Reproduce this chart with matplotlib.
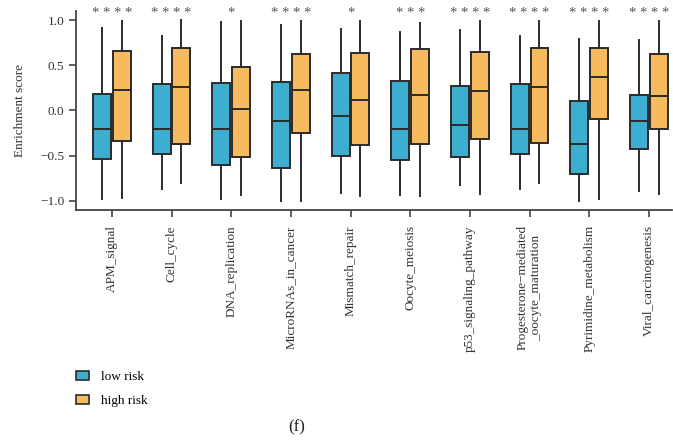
import matplotlib.pyplot as plt
import numpy as np
from matplotlib.patches import Patch

plt.rcParams["font.family"] = ["Liberation Serif", "DejaVu Serif"]

pathways = [
    "APM_signal", "Cell_cycle", "DNA_replication", "MicroRNAs_in_cancer",
    "Mismatch_repair", "Oocyte_meiosis", "p53_signaling_pathway",
    "Progesterone\u2212mediated\n_oocyte_maturation", "Pyrimidine_metabolism",
    "Viral_carcinogenesis",
]
signif = ["****", "****", "*", "****", "*", "***", "****", "****", "****", "****"]

# whisker low, Q1, median, Q3, whisker high
low_lo = [-0.98, -0.87, -0.98, -1.00, -0.91, -0.93, -0.82, -0.87, -1.00, -0.89]
low_q1 = [-0.54, -0.48, -0.60, -0.64, -0.50, -0.55, -0.52, -0.48, -0.70, -0.43]
low_med = [-0.21, -0.20, -0.20, -0.12, -0.06, -0.20, -0.16, -0.20, -0.37, -0.12]
low_q3 = [0.18, 0.29, 0.30, 0.31, 0.41, 0.33, 0.27, 0.29, 0.11, 0.17]
low_hi = [0.91, 0.82, 0.98, 0.95, 0.90, 0.87, 0.89, 0.82, 0.79, 0.78]

high_lo = [-0.97, -0.80, -0.93, -1.00, -0.95, -0.95, -0.92, -0.80, -0.98, -0.92]
high_q1 = [-0.34, -0.37, -0.51, -0.25, -0.38, -0.37, -0.32, -0.36, -0.09, -0.21]
high_med = [0.23, 0.26, 0.02, 0.23, 0.12, 0.17, 0.22, 0.26, 0.37, 0.16]
high_q3 = [0.66, 0.69, 0.48, 0.63, 0.64, 0.68, 0.65, 0.69, 0.69, 0.63]
high_hi = [0.99, 1.00, 0.99, 0.99, 0.99, 0.97, 0.99, 0.99, 0.99, 0.99]

blue = "#3daecf"
orange = "#f6bb5e"
edge = "#2b2b2b"


def make_stats(lo, q1, med, q3, hi):
    return [
        {"whislo": a, "q1": b, "med": c, "q3": d, "whishi": e, "fliers": []}
        for a, b, c, d, e in zip(lo, q1, med, q3, hi)
    ]


fig = plt.figure(figsize=(6.73, 4.41), dpi=100)
ax = fig.add_axes([0.113, 0.524, 0.885, 0.451])

x = np.arange(len(pathways))
common = dict(
    widths=0.3, showfliers=False, patch_artist=True, showcaps=False,
    whiskerprops=dict(color=edge, linewidth=1.4),
    medianprops=dict(color=edge, linewidth=1.4),
)
ax.bxp(make_stats(low_lo, low_q1, low_med, low_q3, low_hi),
       positions=x - 0.165, boxprops=dict(facecolor=blue, edgecolor=edge, linewidth=1.4),
       **common)
ax.bxp(make_stats(high_lo, high_q1, high_med, high_q3, high_hi),
       positions=x + 0.165, boxprops=dict(facecolor=orange, edgecolor=edge, linewidth=1.4),
       **common)

for xi, s in zip(x, signif):
    ax.text(xi, 1.075, " ".join(s), ha="center", va="center", fontsize=10.5, color="#555555")

ax.set_xlim(-0.6, 9.38)
ax.set_ylim(-1.1, 1.1)
ax.set_xticks(x)
ax.set_xticklabels(pathways, rotation=90, fontsize=9.5, va="top", color="#333333")
ax.set_yticks([-1.0, -0.5, 0.0, 0.5, 1.0])
ax.set_yticklabels(["\u22121.0", "\u22120.5", "0.0", "0.5", "1.0"], fontsize=9.5, color="#333333")
ax.set_ylabel("Enrichment score", fontsize=9.5, color="#333333", labelpad=10)
for side in ["top", "right"]:
    ax.spines[side].set_visible(False)
for side in ["left", "bottom"]:
    ax.spines[side].set_color("#444444")
    ax.spines[side].set_linewidth(1.3)
ax.tick_params(axis="both", length=5, width=1.2, color="#444444")
ax.tick_params(axis="x", pad=6)

handles = [
    Patch(facecolor=blue, edgecolor=edge, linewidth=1.2, label="low risk"),
    Patch(facecolor=orange, edgecolor=edge, linewidth=1.2, label="high risk"),
]
fig.legend(handles=handles, loc="upper left", bbox_to_anchor=(0.095, 0.185),
           bbox_transform=fig.transFigure, frameon=False, fontsize=9.5,
           handlelength=1.0, handleheight=0.6, labelspacing=0.9, handletextpad=0.9)

fig.text(0.441, 0.03, "(f)", fontsize=12, ha="center", va="center", color="#222222")

fig.savefig("out.png", dpi=100)
